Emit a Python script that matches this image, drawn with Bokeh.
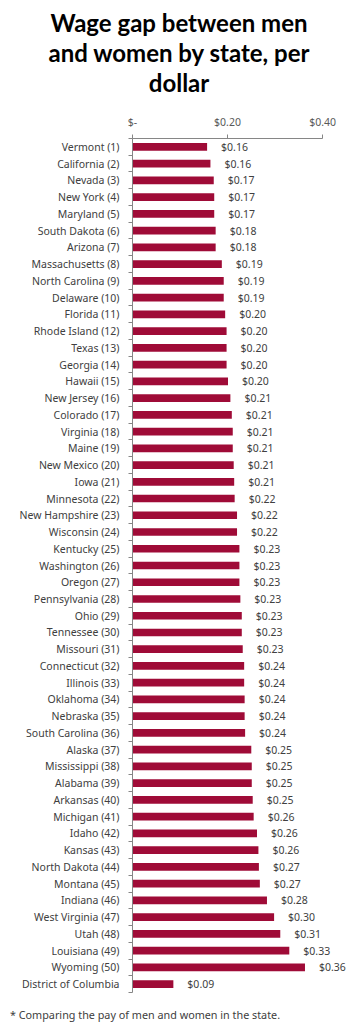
from bokeh.plotting import figure
from bokeh.models import (Range1d, FixedTicker, CustomJSTickFormatter,
                          ColumnDataSource, LinearAxis, Div)
from bokeh.layouts import column
from bokeh.core.properties import value
from bokeh.embed import file_html
from bokeh.resources import INLINE

states = ["Vermont (1)", "California (2)", "Nevada (3)", "New York (4)", "Maryland (5)",
          "South Dakota (6)", "Arizona (7)", "Massachusetts (8)", "North Carolina (9)",
          "Delaware (10)", "Florida (11)", "Rhode Island (12)", "Texas (13)", "Georgia (14)",
          "Hawaii (15)", "New Jersey (16)", "Colorado (17)", "Virginia (18)", "Maine (19)",
          "New Mexico (20)", "Iowa (21)", "Minnesota (22)", "New Hampshire (23)",
          "Wisconsin (24)", "Kentucky (25)", "Washington (26)", "Oregon (27)",
          "Pennsylvania (28)", "Ohio (29)", "Tennessee (30)", "Missouri (31)",
          "Connecticut (32)", "Illinois (33)", "Oklahoma (34)", "Nebraska (35)",
          "South Carolina (36)", "Alaska (37)", "Mississippi (38)", "Alabama (39)",
          "Arkansas (40)", "Michigan (41)", "Idaho (42)", "Kansas (43)", "North Dakota (44)",
          "Montana (45)", "Indiana (46)", "West Virginia (47)", "Utah (48)", "Louisiana (49)",
          "Wyoming (50)", "District of Columbia"]

gaps = [0.157, 0.164, 0.171, 0.172, 0.172, 0.175, 0.175, 0.188, 0.192, 0.192,
        0.195, 0.198, 0.198, 0.198, 0.201, 0.206, 0.209, 0.211, 0.211, 0.213,
        0.214, 0.215, 0.220, 0.220, 0.225, 0.225, 0.225, 0.227, 0.230, 0.230,
        0.232, 0.235, 0.235, 0.236, 0.236, 0.237, 0.250, 0.251, 0.251, 0.253,
        0.255, 0.262, 0.265, 0.266, 0.268, 0.283, 0.298, 0.311, 0.330, 0.363,
        0.086]

gap_labels = ["$0.16", "$0.16", "$0.17", "$0.17", "$0.17", "$0.18", "$0.18", "$0.19",
              "$0.19", "$0.19", "$0.20", "$0.20", "$0.20", "$0.20", "$0.20", "$0.21",
              "$0.21", "$0.21", "$0.21", "$0.21", "$0.21", "$0.22", "$0.22", "$0.22",
              "$0.23", "$0.23", "$0.23", "$0.23", "$0.23", "$0.23", "$0.23", "$0.24",
              "$0.24", "$0.24", "$0.24", "$0.24", "$0.25", "$0.25", "$0.25", "$0.25",
              "$0.26", "$0.26", "$0.26", "$0.27", "$0.27", "$0.28", "$0.30", "$0.31",
              "$0.33", "$0.36", "$0.09"]

x_ticks = [0, 0.2, 0.4]
title_lines = ["Wage gap between men", "and women by state, per", "dollar"]
footnote = "* Comparing the pay of men and women in the state."

FONT = "Noto Sans"
BAR = "#9F0B37"
TXT = "#404040"
AX = "#868686"

n = len(states)
pos = list(range(n))
src = ColumnDataSource(dict(pos=pos, state=states, gap=gaps, label=gap_labels))

title_div = Div(
    text="<div style=\"width:354px;box-sizing:border-box;text-align:center;"
         "font-family:'Lato';font-weight:bold;font-size:24px;line-height:30px;"
         "padding-top:8px;padding-left:4px;color:#000;white-space:nowrap;\">"
         + "<br>".join(title_lines) + "</div>",
    width=354, height=110, margin=0)

p = figure(width=354, height=884, output_backend="svg", toolbar_location=None,
           y_range=Range1d(n - 0.5, -0.5),
           x_range=Range1d(0, 0.463), x_axis_location="above",
           min_border_left=132, min_border_right=2, min_border_top=28,
           min_border_bottom=2, outline_line_color=None, background_fill_color="white",
           border_fill_color="white", margin=0)
p.grid.visible = False

p.hbar(y="pos", left=0, right="gap", height=0.46, source=src,
       fill_color=BAR, line_color=None)
p.text(x="gap", y="pos", text="label", source=src, x_offset=14,
       text_baseline="middle", text_align="left", text_font=value(FONT),
       text_font_size="10.5px", text_color=TXT)

# top value axis
xa = p.xaxis[0]
xa.ticker = FixedTicker(ticks=x_ticks)
xa.formatter = CustomJSTickFormatter(code="return tick == 0 ? '$-' : '$' + tick.toFixed(2);")
xa.bounds = (0, 0.4)
xa.major_tick_out = 4
xa.major_tick_in = 0
xa.minor_tick_line_color = None
xa.axis_line_color = AX
xa.major_tick_line_color = AX
xa.major_label_text_font = FONT
xa.major_label_text_font_size = "10.5px"
xa.major_label_text_color = "#595959"
xa.major_label_standoff = 6

# category axis (labels only)
ya = p.yaxis[0]
ya.ticker = FixedTicker(ticks=pos)
ya.formatter = CustomJSTickFormatter(args=dict(names=states),
                                     code="return names[Math.round(tick)] || '';")
ya.axis_line_color = None
ya.major_tick_line_color = None
ya.minor_tick_line_color = None
ya.major_label_text_font = FONT
ya.major_label_text_font_size = "10.5px"
ya.major_label_text_color = TXT
ya.major_label_standoff = 3

# boundary tick axis adjacent to the frame
ta = LinearAxis(ticker=FixedTicker(ticks=[i - 0.5 for i in range(n + 1)]),
                formatter=CustomJSTickFormatter(code="return '';"),
                major_label_standoff=0,
                major_tick_out=4, major_tick_in=0, minor_tick_line_color=None,
                axis_line_color=AX, major_tick_line_color=AX)
p.add_layout(ta, "left")
p.left = [ta, ya]

foot_div = Div(
    text="<div style=\"font-family:'Noto Sans';font-size:10.8px;line-height:14px;"
         "padding-top:14px;padding-left:10px;color:#404040;white-space:nowrap;\">"
         + footnote + "</div>",
    width=354, height=30, margin=0)

layout = column(title_div, p, foot_div, spacing=0, margin=0)

open("out.html", "w").write(file_html(layout, INLINE))
